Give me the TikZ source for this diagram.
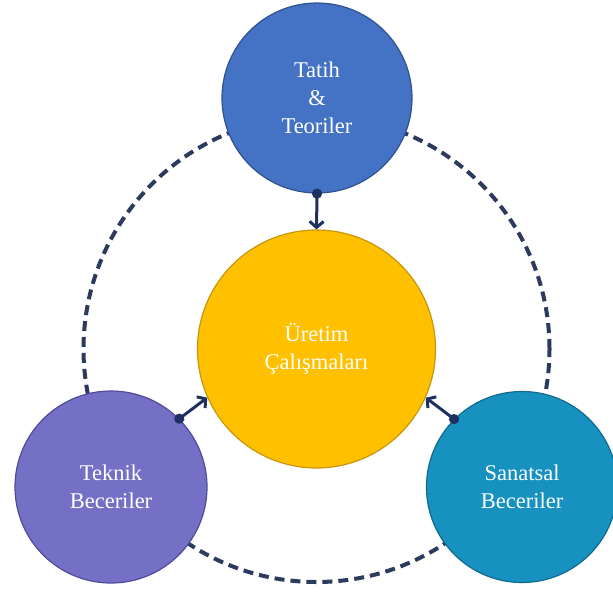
\documentclass[tikz,border=0pt]{standalone}
\usepackage{fontspec}
\setmainfont{Liberation Serif}
\usetikzlibrary{arrows.meta}
\definecolor{tarihfill}{HTML}{4472C4}
\definecolor{tarihline}{HTML}{2F528F}
\definecolor{uretimfill}{HTML}{FFC000}
\definecolor{uretimline}{HTML}{C8960A}
\definecolor{teknikfill}{HTML}{7470C6}
\definecolor{teknikline}{HTML}{4F4B9A}
\definecolor{sanatfill}{HTML}{1792C0}
\definecolor{sanatline}{HTML}{0F6A8C}
\definecolor{ringnavy}{HTML}{2C3A5E}
\definecolor{arrownavy}{HTML}{1F3160}
\tikzset{
	bubble/.style={circle, line width=1.2pt, inner sep=0pt, text=white, align=center, font=\fontsize{22.5}{28}\selectfont},
	ring/.style={draw=ringnavy, line width=4pt, dash pattern=on 10pt off 6pt},
	feed/.style={draw=arrownavy, line width=3pt, {Circle[length=10pt]}-{Straight Barb[length=6pt,width=14pt]}, shorten <=-5pt},
}

\begin{document}
\begin{tikzpicture}[x=1pt,y=-1pt]
		%%%%% START %%%%%
		\useasboundingbox (0,0) rectangle (613,592);
		
		\node[bubble, fill=uretimfill, draw=uretimline, minimum size=238pt] (uretim) at (316.5,349) {Üretim\\Çalışmaları};
		
		\draw[ring] (uretim.center) circle (233pt);
		
		\node[bubble, fill=tarihfill, draw=tarihline, minimum size=190pt] (tarih) at (317,98) {Tatih\\\&\\Teoriler};
		\node[bubble, fill=teknikfill, draw=teknikline, minimum size=192pt] (teknik) at (111,487) {Teknik\\Beceriler};
		\node[bubble, fill=sanatfill, draw=sanatline, minimum size=191pt] (sanatsal) at (522,487) {Sanatsal\\Beceriler};
		
		\draw[feed] (tarih.south) -- (uretim.north);
		\draw[feed] (teknik.45) -- (uretim.204);
		\draw[feed] (sanatsal.135) -- (uretim.336);
		%%%%% END %%%%%
	\end{tikzpicture}
\end{document}
